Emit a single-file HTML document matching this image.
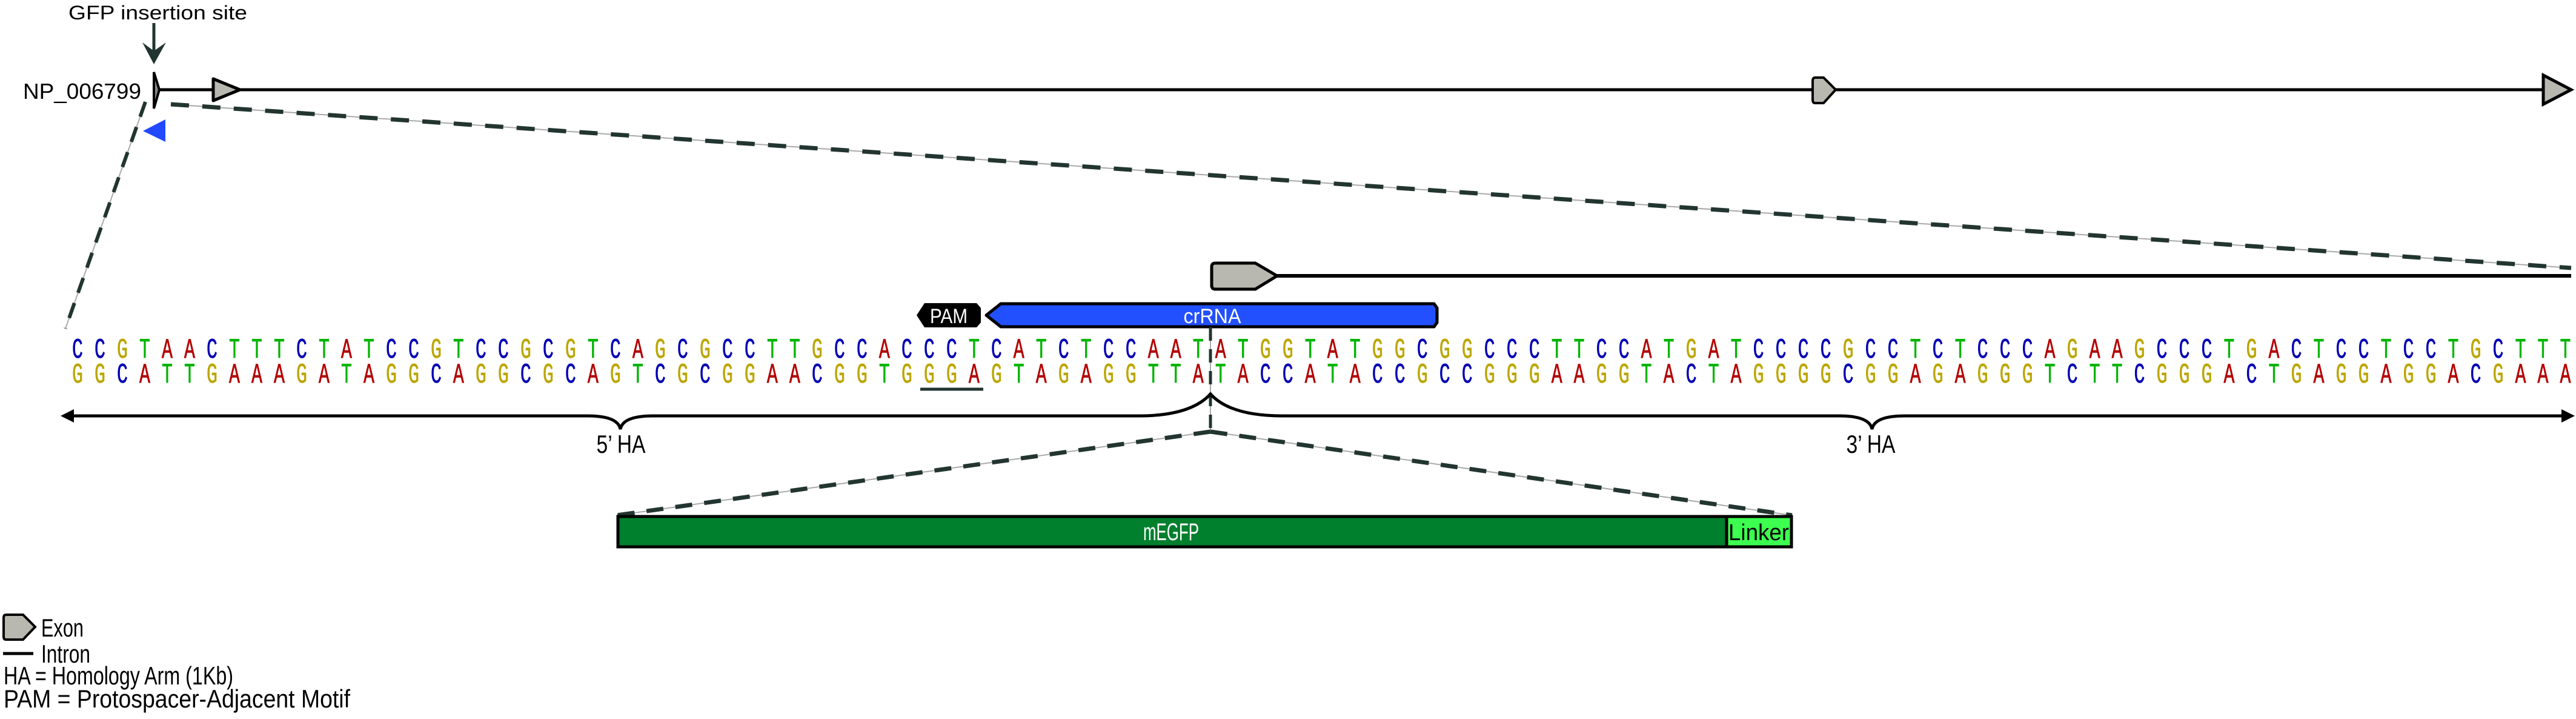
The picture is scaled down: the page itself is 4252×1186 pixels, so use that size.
<!DOCTYPE html>
<html><head><meta charset="utf-8"><style>
html,body{margin:0;padding:0;background:#fff;}
svg{display:block;}
.C{fill:#0000b4}.G{fill:#bba600}.T{fill:#00b400}.A{fill:#b40000}
.seq{font-family:"Liberation Mono",monospace;font-size:46px;letter-spacing:29.32px;stroke-width:0.8px;}
.seq .C{stroke:#0000b4}.seq .G{stroke:#bba600}.seq .T{stroke:#00b400}.seq .A{stroke:#b40000}
.lbl{font-family:"Liberation Sans",sans-serif;}
</style></head><body>
<svg width="4252" height="1186" viewBox="0 0 4252 1186" xmlns="http://www.w3.org/2000/svg">
<rect width="4252" height="1186" fill="#fff"/>
<text class="lbl" x="113" y="32" font-size="32" textLength="295" lengthAdjust="spacingAndGlyphs">GFP insertion site</text>
<text class="lbl" x="38" y="163" font-size="36" textLength="195" lengthAdjust="spacingAndGlyphs">NP_006799</text>
<line x1="254" y1="38" x2="254" y2="84" stroke="#223530" stroke-width="5"/>
<polygon points="235,70 254,84 274,70 254,106" fill="#223530"/>
<line x1="262" y1="148" x2="4205" y2="148" stroke="#000" stroke-width="5"/>
<polygon points="254,119 263,148 254,179" fill="#888" stroke="#000" stroke-width="4"/>
<polygon points="352,130 396,148 352,166" fill="#b8b8b0" stroke="#000" stroke-width="5" stroke-linejoin="round"/>
<path d="M2996,128 L3010,128 L3030,148 L3010,170 L2996,170 Q2992,170 2992,164 L2992,134 Q2992,128 2996,128 Z" fill="#b8b8b0" stroke="#000" stroke-width="4"/>
<polygon points="4198,124 4244,148 4198,172" fill="#b8b8b0" stroke="#000" stroke-width="5"/>
<polygon points="236,216 273,197 273,234" fill="#2249ff"/>
<g stroke-linecap="butt">
<line x1="240" y1="168" x2="108" y2="542" stroke="#aaa" stroke-width="2"/>
<line x1="240" y1="168" x2="108" y2="542" stroke="#223530" stroke-width="6" stroke-dasharray="26,18"/>
<line x1="282" y1="172" x2="4244" y2="442" stroke="#aaa" stroke-width="2"/>
<line x1="282" y1="172" x2="4244" y2="442" stroke="#223530" stroke-width="7" stroke-dasharray="30,22"/>
</g>
<line x1="2105" y1="455" x2="4244" y2="455" stroke="#000" stroke-width="6"/>
<path d="M2006,434 L2072,434 L2108,455 L2072,477 L2006,477 Q2000,477 2000,471 L2000,440 Q2000,434 2006,434 Z" fill="#b8b8b0" stroke="#000" stroke-width="5"/>
<polygon points="1513,520 1526,500 1612,500 1619,508 1619,532 1612,540 1526,540" fill="#000"/>
<text class="lbl" x="1566" y="533" font-size="34" fill="#fff" text-anchor="middle" textLength="62" lengthAdjust="spacingAndGlyphs">PAM</text>
<polygon points="1628,520 1652,501 2367,501 2372,508 2372,532 2367,539 1652,539" fill="#2250ff" stroke="#000" stroke-width="5" stroke-linejoin="round"/>
<text class="lbl" x="2001" y="533" font-size="34" fill="#fff" text-anchor="middle" textLength="95" lengthAdjust="spacingAndGlyphs">crRNA</text>
<line x1="1998" y1="540" x2="1998" y2="712" stroke="#aaa" stroke-width="2"/>
<line x1="1998" y1="540" x2="1998" y2="712" stroke="#223530" stroke-width="5" stroke-dasharray="22,14"/>
<g transform="scale(0.65,1)">
<text class="seq" x="183.12" y="590"><tspan class="C">CC</tspan><tspan class="G">G</tspan><tspan class="T">T</tspan><tspan class="A">AA</tspan><tspan class="C">C</tspan><tspan class="T">TTT</tspan><tspan class="C">C</tspan><tspan class="T">T</tspan><tspan class="A">A</tspan><tspan class="T">T</tspan><tspan class="C">CC</tspan><tspan class="G">G</tspan><tspan class="T">T</tspan><tspan class="C">CC</tspan><tspan class="G">G</tspan><tspan class="C">C</tspan><tspan class="G">G</tspan><tspan class="T">T</tspan><tspan class="C">C</tspan><tspan class="A">A</tspan><tspan class="G">G</tspan><tspan class="C">C</tspan><tspan class="G">G</tspan><tspan class="C">CC</tspan><tspan class="T">TT</tspan><tspan class="G">G</tspan><tspan class="C">CC</tspan><tspan class="A">A</tspan><tspan class="C">CCC</tspan><tspan class="T">T</tspan><tspan class="C">C</tspan><tspan class="A">A</tspan><tspan class="T">T</tspan><tspan class="C">C</tspan><tspan class="T">T</tspan><tspan class="C">CC</tspan><tspan class="A">AA</tspan><tspan class="T">T</tspan><tspan class="A">A</tspan><tspan class="T">T</tspan><tspan class="G">GG</tspan><tspan class="T">T</tspan><tspan class="A">A</tspan><tspan class="T">T</tspan><tspan class="G">GG</tspan><tspan class="C">C</tspan><tspan class="G">GG</tspan><tspan class="C">CCC</tspan><tspan class="T">TT</tspan><tspan class="C">CC</tspan><tspan class="A">A</tspan><tspan class="T">T</tspan><tspan class="G">G</tspan><tspan class="A">A</tspan><tspan class="T">T</tspan><tspan class="C">CCCC</tspan><tspan class="G">G</tspan><tspan class="C">CC</tspan><tspan class="T">T</tspan><tspan class="C">C</tspan><tspan class="T">T</tspan><tspan class="C">CCC</tspan><tspan class="A">A</tspan><tspan class="G">G</tspan><tspan class="A">AA</tspan><tspan class="G">G</tspan><tspan class="C">CCC</tspan><tspan class="T">T</tspan><tspan class="G">G</tspan><tspan class="A">A</tspan><tspan class="C">C</tspan><tspan class="T">T</tspan><tspan class="C">CC</tspan><tspan class="T">T</tspan><tspan class="C">CC</tspan><tspan class="T">T</tspan><tspan class="G">G</tspan><tspan class="C">C</tspan><tspan class="T">TTT</tspan></text>
<text class="seq" x="183.12" y="631"><tspan class="G">GG</tspan><tspan class="C">C</tspan><tspan class="A">A</tspan><tspan class="T">TT</tspan><tspan class="G">G</tspan><tspan class="A">AAA</tspan><tspan class="G">G</tspan><tspan class="A">A</tspan><tspan class="T">T</tspan><tspan class="A">A</tspan><tspan class="G">GG</tspan><tspan class="C">C</tspan><tspan class="A">A</tspan><tspan class="G">GG</tspan><tspan class="C">C</tspan><tspan class="G">G</tspan><tspan class="C">C</tspan><tspan class="A">A</tspan><tspan class="G">G</tspan><tspan class="T">T</tspan><tspan class="C">C</tspan><tspan class="G">G</tspan><tspan class="C">C</tspan><tspan class="G">GG</tspan><tspan class="A">AA</tspan><tspan class="C">C</tspan><tspan class="G">GG</tspan><tspan class="T">T</tspan><tspan class="G">GGG</tspan><tspan class="A">A</tspan><tspan class="G">G</tspan><tspan class="T">T</tspan><tspan class="A">A</tspan><tspan class="G">G</tspan><tspan class="A">A</tspan><tspan class="G">GG</tspan><tspan class="T">TT</tspan><tspan class="A">A</tspan><tspan class="T">T</tspan><tspan class="A">A</tspan><tspan class="C">CC</tspan><tspan class="A">A</tspan><tspan class="T">T</tspan><tspan class="A">A</tspan><tspan class="C">CC</tspan><tspan class="G">G</tspan><tspan class="C">CC</tspan><tspan class="G">GGG</tspan><tspan class="A">AA</tspan><tspan class="G">GG</tspan><tspan class="T">T</tspan><tspan class="A">A</tspan><tspan class="C">C</tspan><tspan class="T">T</tspan><tspan class="A">A</tspan><tspan class="G">GGGG</tspan><tspan class="C">C</tspan><tspan class="G">GG</tspan><tspan class="A">A</tspan><tspan class="G">G</tspan><tspan class="A">A</tspan><tspan class="G">GGG</tspan><tspan class="T">T</tspan><tspan class="C">C</tspan><tspan class="T">TT</tspan><tspan class="C">C</tspan><tspan class="G">GGG</tspan><tspan class="A">A</tspan><tspan class="C">C</tspan><tspan class="T">T</tspan><tspan class="G">G</tspan><tspan class="A">A</tspan><tspan class="G">GG</tspan><tspan class="A">A</tspan><tspan class="G">GG</tspan><tspan class="A">A</tspan><tspan class="C">C</tspan><tspan class="G">G</tspan><tspan class="A">AAA</tspan></text>
</g>
<line x1="1519" y1="642" x2="1623" y2="642" stroke="#223530" stroke-width="5"/>
<path d="M112,686 L970,686 Q1020,686 1024,708 Q1028,686 1078,686 L1880,686 Q1965,686 1998,650 Q2031,686 2116,686 L3036,686 Q3086,686 3090,708 Q3094,686 3144,686 L4236,686" fill="none" stroke="#000" stroke-width="5"/>
<polygon points="100,686 122,675 122,697" fill="#000"/>
<polygon points="4250,686 4228,675 4228,697" fill="#000"/>
<text class="lbl" x="1025" y="747" font-size="42" text-anchor="middle" textLength="81" lengthAdjust="spacingAndGlyphs">5’ HA</text>
<text class="lbl" x="3088" y="747" font-size="42" text-anchor="middle" textLength="81" lengthAdjust="spacingAndGlyphs">3’ HA</text>
<line x1="1998" y1="712" x2="1018" y2="850" stroke="#aaa" stroke-width="2"/>
<line x1="1998" y1="712" x2="1018" y2="850" stroke="#223530" stroke-width="7" stroke-dasharray="28,20"/>
<line x1="1998" y1="712" x2="2958" y2="850" stroke="#aaa" stroke-width="2"/>
<line x1="1998" y1="712" x2="2958" y2="850" stroke="#223530" stroke-width="7" stroke-dasharray="28,20"/>
<rect x="1020" y="852" width="1830" height="50" fill="#007f2d" stroke="#000" stroke-width="5"/>
<rect x="2850" y="852" width="107" height="50" fill="#3cff50" stroke="#000" stroke-width="5"/>
<text class="lbl" x="1933" y="891" font-size="40" fill="#fff" text-anchor="middle" textLength="92" lengthAdjust="spacingAndGlyphs">mEGFP</text>
<text class="lbl" x="2903" y="891" font-size="38" fill="#000" text-anchor="middle" textLength="100" lengthAdjust="spacingAndGlyphs">Linker</text>
<path d="M10,1014 L38,1014 L58,1034 L38,1055 L10,1055 Q6,1055 6,1050 L6,1019 Q6,1014 10,1014 Z" fill="#b8b8b0" stroke="#000" stroke-width="4"/>
<text class="lbl" x="68" y="1050" font-size="42" textLength="70" lengthAdjust="spacingAndGlyphs">Exon</text>
<line x1="5" y1="1078" x2="55" y2="1078" stroke="#000" stroke-width="5"/>
<text class="lbl" x="68" y="1093" font-size="42" textLength="81" lengthAdjust="spacingAndGlyphs">Intron</text>
<text class="lbl" x="6" y="1129" font-size="42" textLength="379" lengthAdjust="spacingAndGlyphs">HA = Homology Arm (1Kb)</text>
<text class="lbl" x="6" y="1167" font-size="42" textLength="572" lengthAdjust="spacingAndGlyphs">PAM = Protospacer-Adjacent Motif</text>
</svg>
</body></html>
